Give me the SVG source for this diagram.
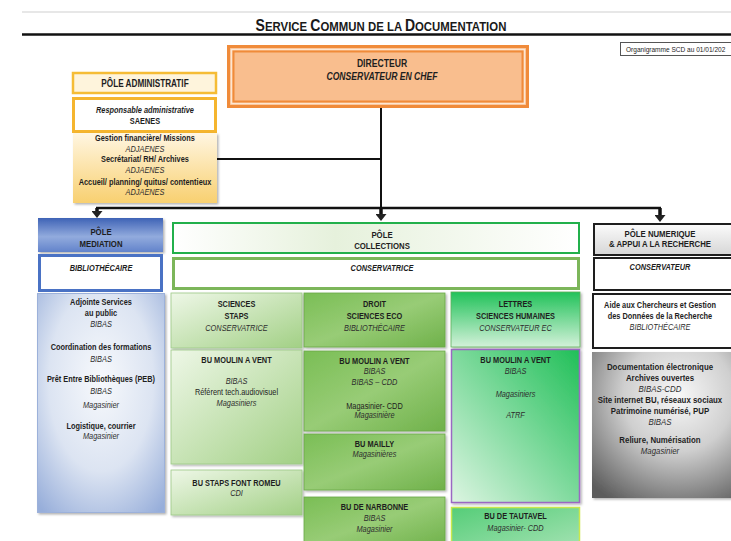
<svg xmlns="http://www.w3.org/2000/svg" width="731" height="541" viewBox="0 0 731 541">
<style>
.t{font-family:"Liberation Sans",Arial,sans-serif;font-size:9px;fill:#1e1e1e;text-anchor:middle}
.b{font-weight:bold}
.i{font-style:italic;fill:#2e2e2e}
.bi{font-weight:bold;font-style:italic}
.h{font-size:9.5px;font-weight:bold}
.ln{stroke:#111;fill:none}
</style>
<defs>
<filter id="sh" x="-10%" y="-10%" width="125%" height="125%"><feDropShadow dx="1.5" dy="1.5" stdDeviation="1" flood-color="#000" flood-opacity="0.3"/></filter>
<linearGradient id="gAdm" x1="0" y1="0" x2="0" y2="1"><stop offset="0" stop-color="#FFF6E2"/><stop offset="1" stop-color="#F8D070"/></linearGradient>
<linearGradient id="gBlueH" x1="0" y1="0" x2="0" y2="1"><stop offset="0" stop-color="#3F63B6"/><stop offset="0.55" stop-color="#92ABDD"/><stop offset="1" stop-color="#6283CB"/></linearGradient>
<radialGradient id="gBlueB" cx="0.5" cy="0.4" r="0.75"><stop offset="0" stop-color="#F7F9FC"/><stop offset="0.55" stop-color="#DCE4F2"/><stop offset="1" stop-color="#97AEDA"/></radialGradient>
<linearGradient id="gColl" x1="0" y1="0" x2="1" y2="0"><stop offset="0" stop-color="#FFFFFF"/><stop offset="0.4" stop-color="#E6F1DC"/><stop offset="1" stop-color="#FFFFFF"/></linearGradient>
<linearGradient id="gLG" x1="0" y1="0" x2="1" y2="1"><stop offset="0" stop-color="#EEF7E7"/><stop offset="1" stop-color="#A2D085"/></linearGradient>
<linearGradient id="gMG" x1="0" y1="0" x2="1" y2="1"><stop offset="0" stop-color="#7ABE55"/><stop offset="0.5" stop-color="#98CC76"/><stop offset="1" stop-color="#6FB14A"/></linearGradient>
<linearGradient id="gBG1" x1="0" y1="0" x2="0" y2="1"><stop offset="0" stop-color="#22C25A"/><stop offset="1" stop-color="#D3F1D9"/></linearGradient>
<linearGradient id="gBG2" x1="1" y1="0" x2="0" y2="1"><stop offset="0" stop-color="#20BF58"/><stop offset="1" stop-color="#DDF5E2"/></linearGradient>
<linearGradient id="gBG3" x1="0" y1="0" x2="1" y2="1"><stop offset="0" stop-color="#55CD78"/><stop offset="1" stop-color="#A3E2B2"/></linearGradient>
<linearGradient id="gGrH" x1="0" y1="0" x2="0" y2="1"><stop offset="0" stop-color="#FBFBFB"/><stop offset="1" stop-color="#D6D6D6"/></linearGradient>
<radialGradient id="gGrB" cx="0.6" cy="0.3" r="0.85"><stop offset="0" stop-color="#F8F8F8"/><stop offset="0.45" stop-color="#CFCFCF"/><stop offset="1" stop-color="#5C5C5C"/></radialGradient>
<marker id="ah" viewBox="0 -5.5 7 11" refX="0" refY="0" markerWidth="7" markerHeight="11" markerUnits="userSpaceOnUse" orient="auto"><path d="M0,-5.5L7,0L0,5.5z" fill="#222"/></marker>
</defs>
<rect width="731" height="541" fill="#FFFFFF"/>

<g id="header">
<line x1="22" y1="12" x2="731" y2="12" stroke="#CFCFCF" stroke-width="1"/>
<g transform="matrix(0.877 0 0 1 46.86 0)">
<text class="t b" x="381" y="31" style="font-size:13px;fill:#1a1a1a"><tspan style="font-size:16px">S</tspan>ERVICE <tspan style="font-size:16px">C</tspan>OMMUN DE LA <tspan style="font-size:16px">D</tspan>OCUMENTATION</text>
</g>
<line x1="22" y1="34.5" x2="731" y2="34.5" stroke="#111" stroke-width="2.5"/>
<rect x="620.5" y="42.5" width="115" height="13" fill="#FFFFFF" stroke="#555" stroke-width="1"/>
<g transform="matrix(0.82 0 0 1 112.7 0)"><text class="t" x="626" y="52" style="font-size:8px;text-anchor:start">Organigramme SCD au 01/01/202</text></g>
</g>

<g id="connectors">
<line class="ln" x1="381" y1="108" x2="381" y2="208" stroke-width="2"/>
<line class="ln" x1="217" y1="159" x2="381" y2="159" stroke-width="2"/>
<line class="ln" x1="96" y1="208" x2="661" y2="208" stroke-width="2.5"/>
<line class="ln" x1="97" y1="208" x2="97" y2="211" stroke-width="3.5" marker-end="url(#ah)"/>
<line class="ln" x1="381" y1="208" x2="381" y2="214" stroke-width="3.5" marker-end="url(#ah)"/>
<line class="ln" x1="660" y1="208" x2="660" y2="215" stroke-width="3.5" marker-end="url(#ah)"/>
</g>

<g id="directeur">
<rect x="228.5" y="46.5" width="299" height="60" fill="#F9BE8E" stroke="#F08B3A" stroke-width="3"/>
<rect x="231.5" y="49.5" width="293" height="54" fill="none" stroke="#FDE6D2" stroke-width="1.5"/>
<rect x="233.5" y="51.5" width="289" height="50" fill="none" stroke="#F08B3A" stroke-width="2"/>
<g transform="matrix(0.82 0 0 1 68.76 0)">
<text class="t b" x="382" y="67" style="font-size:10.5px">DIRECTEUR</text>
<text class="t bi" x="382" y="80" style="font-size:10.5px">CONSERVATEUR EN CHEF</text>
</g>
</g>

<g id="pole-administratif">
<rect x="73" y="73" width="143" height="20" fill="#FEF4DC" stroke="#F5BC36" stroke-width="2.5"/>
<rect x="73.5" y="98.5" width="142" height="33" fill="#FFFFFF" stroke="#F5B52E" stroke-width="3"/>
<rect x="73" y="133" width="144" height="70" fill="url(#gAdm)" filter="url(#sh)"/>
<g transform="matrix(0.82 0 0 1 26.1 0)">
<text class="t b" x="145" y="87" style="font-size:10px">PÔLE ADMINISTRATIF</text>
<text class="t bi" x="145" y="113">Responsable administrative</text>
<text class="t b" x="145" y="124">SAENES</text>
<text class="t b" x="145" y="141">Gestion financière/ Missions</text>
<text class="t i" x="145" y="152">ADJAENES</text>
<text class="t b" x="145" y="162">Secrétariat/ RH/ Archives</text>
<text class="t i" x="145" y="173">ADJAENES</text>
<text class="t b" x="145" y="185">Accueil/ planning/ quitus/ contentieux</text>
<text class="t i" x="145" y="195">ADJAENES</text>
</g>
</g>

<g id="pole-mediation">
<rect x="38" y="218" width="125" height="34" fill="url(#gBlueH)" filter="url(#sh)"/>
<rect x="39.5" y="255.5" width="122" height="35" fill="#FFFFFF" stroke="#4A72C4" stroke-width="3"/>
<rect x="37.5" y="293.5" width="127" height="219" fill="url(#gBlueB)" stroke="#9CB1DA" stroke-width="1" filter="url(#sh)"/>
<g transform="matrix(0.82 0 0 1 18.18 0)">
<text class="t h" x="101" y="235">PÔLE</text>
<text class="t h" x="101" y="247">MEDIATION</text>
<text class="t bi" x="101" y="271">BIBLIOTHÉCAIRE</text>
<text class="t b" x="101" y="305">Adjointe Services</text>
<text class="t b" x="101" y="316">au public</text>
<text class="t i" x="101" y="327">BIBAS</text>
<text class="t b" x="101" y="350">Coordination des formations</text>
<text class="t i" x="101" y="362">BIBAS</text>
<text class="t b" x="101" y="382">Prêt Entre Bibliothèques (PEB)</text>
<text class="t i" x="101" y="394">BIBAS</text>
<text class="t i" x="101" y="408">Magasinier</text>
<text class="t b" x="101" y="429">Logistique, courrier</text>
<text class="t i" x="101" y="439">Magasinier</text>
</g>
</g>

<g id="pole-collections">
<rect x="173" y="223" width="406" height="30" fill="url(#gColl)" stroke="#22B04B" stroke-width="2"/>
<rect x="173.5" y="258.5" width="405" height="30" fill="#FFFFFF" stroke="#7CB65A" stroke-width="3"/>
<g transform="matrix(0.82 0 0 1 68.76 0)">
<text class="t h" x="382" y="238">PÔLE</text>
<text class="t h" x="382" y="249">COLLECTIONS</text>
<text class="t bi" x="382" y="271">CONSERVATRICE</text>
</g>
</g>

<g id="sciences-staps">
<rect x="171" y="293" width="131" height="55" fill="url(#gLG)" stroke="#9CC985" stroke-width="0.8" filter="url(#sh)"/>
<rect x="171" y="350" width="131" height="114" fill="url(#gLG)" stroke="#9CC985" stroke-width="0.8" filter="url(#sh)"/>
<rect x="171" y="470" width="131" height="45" fill="url(#gLG)" stroke="#9CC985" stroke-width="0.8" filter="url(#sh)"/>
<g transform="matrix(0.82 0 0 1 42.57 0)">
<text class="t b" x="236.5" y="307">SCIENCES</text>
<text class="t b" x="236.5" y="319">STAPS</text>
<text class="t i" x="236.5" y="331">CONSERVATRICE</text>
<text class="t b" x="236.5" y="363">BU MOULIN A VENT</text>
<text class="t i" x="236.5" y="384">BIBAS</text>
<text class="t" x="236.5" y="395">Référent tech.audiovisuel</text>
<text class="t i" x="236.5" y="406">Magasiniers</text>
<text class="t b" x="236.5" y="486">BU STAPS FONT ROMEU</text>
<text class="t i" x="236.5" y="496">CDI</text>
</g>
</g>

<g id="droit-sciences-eco">
<rect x="304" y="293" width="141" height="54" fill="url(#gMG)" stroke="#6AA948" stroke-width="0.8" filter="url(#sh)"/>
<rect x="304" y="351" width="141" height="80" fill="url(#gMG)" stroke="#6AA948" stroke-width="0.8" filter="url(#sh)"/>
<rect x="304" y="434" width="141" height="56" fill="url(#gMG)" stroke="#6AA948" stroke-width="0.8" filter="url(#sh)"/>
<rect x="304" y="497" width="141" height="50" fill="url(#gMG)" stroke="#6AA948" stroke-width="0.8" filter="url(#sh)"/>
<g transform="matrix(0.82 0 0 1 67.41 0)">
<text class="t b" x="374.5" y="307">DROIT</text>
<text class="t b" x="374.5" y="319">SCIENCES ECO</text>
<text class="t i" x="374.5" y="331">BIBLIOTHÉCAIRE</text>
<text class="t b" x="374.5" y="364">BU MOULIN A VENT</text>
<text class="t i" x="374.5" y="374">BIBAS</text>
<text class="t i" x="374.5" y="385">BIBAS – CDD</text>
<text class="t" x="374.5" y="409">Magasinier- CDD</text>
<text class="t i" x="374.5" y="418">Magasinière</text>
<text class="t b" x="374.5" y="447">BU MAILLY</text>
<text class="t i" x="374.5" y="457">Magasinières</text>
<text class="t b" x="374.5" y="510">BU DE NARBONNE</text>
<text class="t i" x="374.5" y="521">BIBAS</text>
<text class="t i" x="374.5" y="532">Magasinier</text>
</g>
</g>

<g id="lettres-sciences-humaines">
<rect x="451" y="292" width="129" height="55" fill="url(#gBG1)" stroke="#5FAF5A" stroke-width="0.8" filter="url(#sh)"/>
<rect x="451.5" y="349.5" width="128" height="153" fill="url(#gBG2)" stroke="#9A68C2" stroke-width="1.5" filter="url(#sh)"/>
<rect x="451.5" y="507.5" width="128" height="40" fill="url(#gBG3)" stroke="#C9E84C" stroke-width="1.5"/>
<g transform="matrix(0.82 0 0 1 92.79 0)">
<text class="t b" x="515.5" y="307">LETTRES</text>
<text class="t b" x="515.5" y="319">SCIENCES HUMAINES</text>
<text class="t i" x="515.5" y="331">CONSERVATEUR EC</text>
<text class="t b" x="515.5" y="363">BU MOULIN A VENT</text>
<text class="t i" x="515.5" y="374">BIBAS</text>
<text class="t i" x="515.5" y="397">Magasiniers</text>
<text class="t i" x="515.5" y="418">ATRF</text>
<text class="t b" x="515.5" y="519">BU DE TAUTAVEL</text>
<text class="t i" x="515.5" y="531">Magasinier- CDD</text>
</g>
</g>

<g id="pole-numerique">
<rect x="594" y="224" width="142" height="31" fill="url(#gGrH)" stroke="#1e1e1e" stroke-width="2"/>
<rect x="594" y="258" width="142" height="32" fill="#FFFFFF" stroke="#1e1e1e" stroke-width="2"/>
<rect x="593" y="294" width="143" height="54" fill="#FFFFFF" stroke="#1e1e1e" stroke-width="2"/>
<rect x="592" y="352" width="144" height="146" fill="url(#gGrB)" filter="url(#sh)"/>
<g transform="matrix(0.82 0 0 1 118.8 0)">
<text class="t h" x="660" y="237">PÔLE NUMERIQUE</text>
<text class="t h" x="660" y="247">&amp; APPUI A LA RECHERCHE</text>
<text class="t bi" x="660" y="270">CONSERVATEUR</text>
<text class="t b" x="660" y="308">Aide aux Chercheurs et Gestion</text>
<text class="t b" x="660" y="319">des Données de la Recherche</text>
<text class="t i" x="660" y="330">BIBLIOTHÉCAIRE</text>
<text class="t b" x="660" y="370" style="font-size:9.6px">Documentation électronique</text>
<text class="t b" x="660" y="381" style="font-size:9.6px">Archives ouvertes</text>
<text class="t i" x="660" y="392" style="font-size:9.6px">BIBAS-CDD</text>
<text class="t b" x="660" y="403" style="font-size:9.6px">Site internet BU, réseaux sociaux</text>
<text class="t b" x="660" y="414" style="font-size:9.6px">Patrimoine numérisé, PUP</text>
<text class="t i" x="660" y="425" style="font-size:9.6px">BIBAS</text>
<text class="t b" x="660" y="443" style="font-size:9.6px">Reliure, Numérisation</text>
<text class="t i" x="660" y="454" style="font-size:9.6px">Magasinier</text>
</g>
</g>
</svg>
